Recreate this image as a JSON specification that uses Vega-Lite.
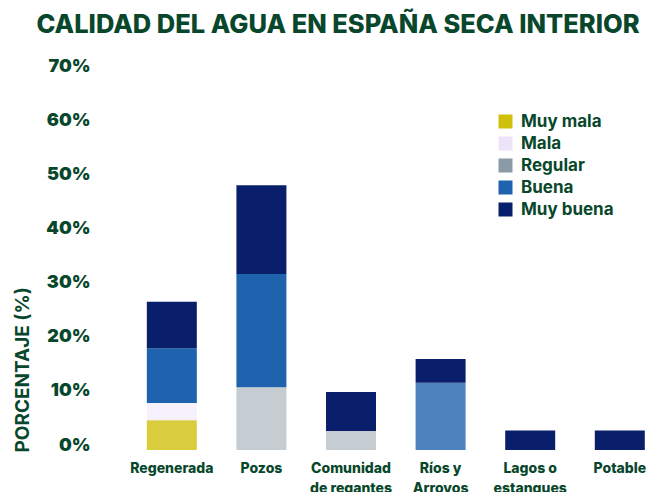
{
  "$schema": "https://vega.github.io/schema/vega-lite/v6.json",
  "width": 558,
  "height": 379,
  "autosize": {"type": "none"},
  "padding": {"left": 100, "top": 71, "right": 0, "bottom": 42},
  "background": "white",
  "title": {
    "text": "CALIDAD DEL AGUA EN ESPAÑA SECA INTERIOR",
    "font": "Inter",
    "fontWeight": 800,
    "fontSize": 25.5,
    "color": "#08472b",
    "anchor": "middle",
    "dx": -41,
    "offset": 19
  },
  "data": {
    "values": [
      {"uso": "Regenerada", "calidad": "Muy mala", "rango": 1, "pct": 5.5},
      {"uso": "Regenerada", "calidad": "Mala", "rango": 2, "pct": 3.2},
      {"uso": "Regenerada", "calidad": "Buena", "rango": 4, "pct": 10.1},
      {"uso": "Regenerada", "calidad": "Muy buena", "rango": 5, "pct": 8.6},
      {"uso": "Pozos", "calidad": "Regular", "rango": 3, "pct": 11.6},
      {"uso": "Pozos", "calidad": "Buena", "rango": 4, "pct": 20.9},
      {"uso": "Pozos", "calidad": "Muy buena", "rango": 5, "pct": 16.4},
      {"uso": "Comunidad de regantes", "calidad": "Regular", "rango": 3, "pct": 3.5},
      {"uso": "Comunidad de regantes", "calidad": "Muy buena", "rango": 5, "pct": 7.2},
      {"uso": "Ríos y Arroyos", "calidad": "Buena", "rango": 4, "pct": 12.4},
      {"uso": "Ríos y Arroyos", "calidad": "Muy buena", "rango": 5, "pct": 4.4},
      {"uso": "Lagos o estanques", "calidad": "Muy buena", "rango": 5, "pct": 3.6},
      {"uso": "Potable", "calidad": "Muy buena", "rango": 5, "pct": 3.6}
    ]
  },
  "mark": {"type": "bar"},
  "encoding": {
    "x": {
      "field": "uso",
      "type": "nominal",
      "sort": ["Regenerada", "Pozos", "Comunidad de regantes", "Ríos y Arroyos", "Lagos o estanques", "Potable"],
      "scale": {"paddingInner": 0.442, "paddingOuter": 0.335, "align": 0.78},
      "axis": {
        "title": null,
        "domain": false,
        "ticks": false,
        "labelAngle": 0,
        "labelFont": "Inter",
        "labelFontWeight": 800,
        "labelFontSize": 14,
        "labelColor": "#08472b",
        "labelBaseline": "top",
        "labelPadding": 11,
        "labelLineHeight": 20,
        "labelExpr": "datum.label == 'Comunidad de regantes' ? ['Comunidad', 'de regantes'] : datum.label == 'Ríos y Arroyos' ? ['Ríos y', 'Arroyos'] : datum.label == 'Lagos o estanques' ? ['Lagos o', 'estanques'] : datum.label"
      }
    },
    "y": {
      "field": "pct",
      "type": "quantitative",
      "stack": "zero",
      "scale": {"domain": [0, 70], "nice": false},
      "axis": {
        "values": [0, 10, 20, 30, 40, 50, 60, 70],
        "labelExpr": "datum.value + '%'",
        "domain": false,
        "ticks": false,
        "grid": false,
        "labelFont": "Inter",
        "labelFontWeight": 900,
        "labelFontSize": 18,
        "labelColor": "#08472b",
        "labelBaseline": "alphabetic",
        "labelPadding": 10,
        "title": "PORCENTAJE (%)",
        "titleFont": "Inter",
        "titleFontWeight": 700,
        "titleFontSize": 19,
        "titleColor": "#08472b",
        "titleAngle": -90,
        "titleAlign": "left",
        "titleBaseline": "middle",
        "titleX": -78,
        "titleY": 381
      }
    },
    "order": {"field": "rango", "type": "quantitative", "sort": "ascending"},
    "color": {
      "field": "calidad",
      "type": "nominal",
      "scale": {
        "domain": ["Muy mala", "Mala", "Regular", "Buena", "Muy buena"],
        "range": ["#cfc00c", "#ede4f9", "#8c9aa6", "#1f63ae", "#0a1f6b"]
      },
      "legend": {
        "title": null,
        "orient": "none",
        "legendX": 397,
        "legendY": 42,
        "symbolType": "square",
        "symbolSize": 196,
        "symbolStrokeWidth": 0,
        "symbolOpacity": 1,
        "labelFont": "Inter",
        "labelFontWeight": 700,
        "labelFontSize": 17,
        "labelColor": "#08472b",
        "labelOffset": 7,
        "rowPadding": 4
      }
    },
    "opacity": {
      "condition": [
        {"test": "datum.calidad == 'Muy buena'", "value": 1},
        {"test": "datum.calidad == 'Buena' && datum.uso != 'Ríos y Arroyos'", "value": 1},
        {"test": "datum.calidad == 'Buena' || datum.calidad == 'Muy mala'", "value": 0.8}
      ],
      "value": 0.5
    }
  },
  "config": {"view": {"stroke": null}}
}
